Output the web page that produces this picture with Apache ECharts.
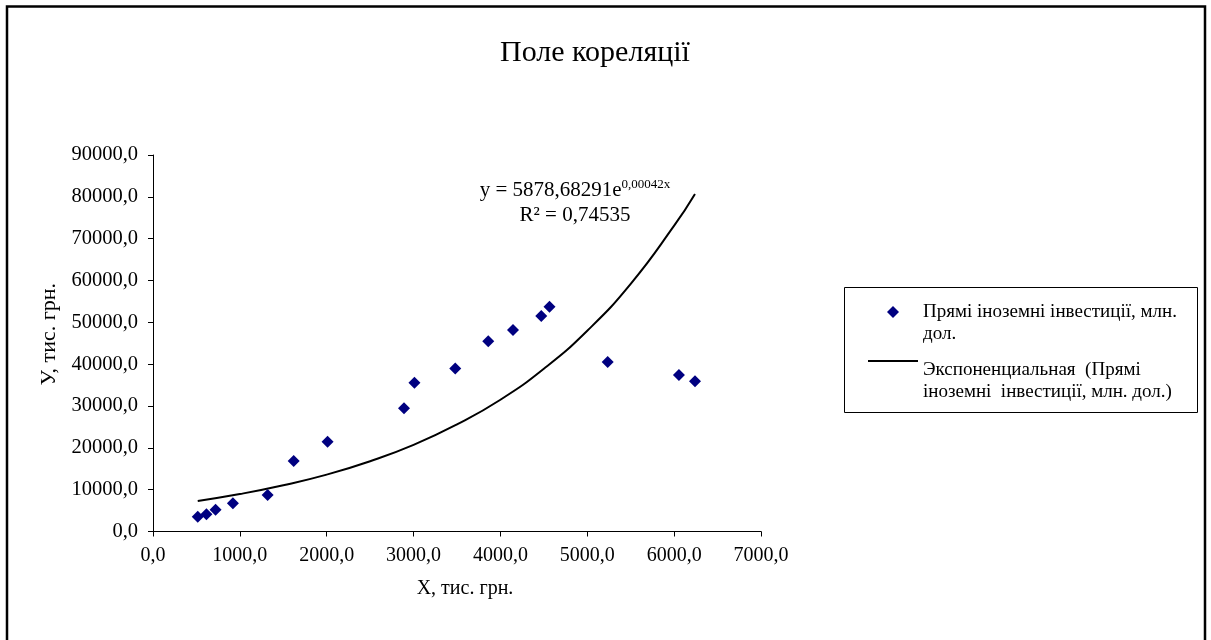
<!DOCTYPE html>
<html>
<head>
<meta charset="utf-8">
<title>Поле кореляції</title>
<script src="https://cdn.jsdelivr.net/npm/echarts@6/dist/echarts.min.js"></script>
<style>
  html, body { margin: 0; padding: 0; background: #fff; }
  #chart { width: 1211px; height: 640px; }
</style>
</head>
<body>
<div id="chart"></div>
<script>
// observed points (X, тис. грн. / У, тис. грн.)
const xValues = [515, 615, 720, 920, 1320, 1620, 2010, 2890, 3010, 3480, 3860, 4145, 4470, 4565, 5235, 6055, 6240];
const yValues = [3540, 4110, 5210, 6740, 8730, 16850, 21470, 29450, 35570, 38970, 45470, 48170, 51510, 53740, 40520, 37410, 35910];

// exponential trend line
const trendX = [515, 1000, 1500, 2000, 2500, 3000, 3500, 4000, 4500, 5000, 5500, 6000, 6240];
const trendY = [7300, 8950, 11050, 13600, 16800, 20700, 25600, 31500, 38900, 48000, 59200, 73100, 80700];

const seriesName = 'Прямі іноземні інвестиції, млн. дол.';
const trendName = 'Экспоненциальная (Прямі іноземні інвестиції, млн. дол.)';

const serif = 'Liberation Serif';
const fmt = v => v.toFixed(1).replace('.', ',');

const chart = echarts.init(document.getElementById('chart'));

const legendFont = { fontFamily: serif, fontSize: 19, lineHeight: 22, color: '#000' };
// small diamond in the middle of a 50x12 icon box (the two dots keep the box from being stretched)
const diamondIcon = 'path://M0,0L0,0M50,12L50,12M19,6L25,0L31,6L25,12Z';

chart.setOption({
  animation: false,
  title: {
    text: 'Поле кореляції',
    left: 495,
    top: 33,
    textStyle: { fontFamily: serif, fontSize: 30, fontWeight: 'normal', color: '#000' }
  },
  grid: { left: 153, right: 450, top: 155, bottom: 108.5 },
  xAxis: {
    type: 'value',
    min: 0, max: 7000, interval: 1000,
    name: 'Х, тис. грн.',
    nameLocation: 'middle',
    nameGap: 47,
    nameTextStyle: { fontFamily: serif, fontSize: 20, color: '#000', padding: [0, 0, 0, 16] },
    axisLine: { show: true, lineStyle: { color: '#000', width: 1 } },
    axisTick: { show: true, length: 5, lineStyle: { color: '#000' } },
    axisLabel: { fontFamily: serif, fontSize: 20, color: '#000', margin: 14, formatter: fmt },
    splitLine: { show: false }
  },
  yAxis: {
    type: 'value',
    min: 0, max: 90000, interval: 10000,
    name: 'У, тис. грн.',
    nameLocation: 'middle',
    nameRotate: 90,
    nameGap: 88,
    nameTextStyle: { fontFamily: serif, fontSize: 22, color: '#000', padding: [0, 0, 0, 18] },
    axisLine: { show: true, lineStyle: { color: '#000', width: 1 } },
    axisTick: { show: true, length: 5, lineStyle: { color: '#000' } },
    axisLabel: { fontFamily: serif, fontSize: 20.5, color: '#000', margin: 15, formatter: fmt },
    splitLine: { show: false }
  },
  legend: {
    orient: 'vertical',
    left: 867,
    top: 279,
    padding: 0,
    borderWidth: 0,
    itemWidth: 50,
    itemHeight: 12,
    itemGap: -26,
    selectedMode: false,
    textStyle: {
      fontFamily: serif, fontSize: 19, lineHeight: 22, color: '#000',
      rich: {
        t: legendFont,
        e1: { fontSize: 4, lineHeight: 22 },
        e2: { fontSize: 4, lineHeight: 40 }
      }
    },
    data: [
      { name: seriesName, icon: diamondIcon },
      { name: trendName, itemStyle: { opacity: 0 } }
    ],
    formatter: function (name) {
      if (name === seriesName) {
        return '{e1| }\n{t|Прямі іноземні інвестиції, млн.}\n{t|дол.}';
      }
      return '{e2| }\n{t|Экспоненциальная  (Прямі}\n{t|іноземні  інвестиції, млн. дол.)}';
    }
  },
  graphic: [
    {
      type: 'rect',
      shape: { x: 7, y: 6.5, width: 1198, height: 700 },
      style: { fill: 'none', stroke: '#000', lineWidth: 2.5 },
      silent: true
    },
    {
      // legend frame
      type: 'rect',
      shape: { x: 844.5, y: 287.5, width: 353, height: 125 },
      style: { fill: 'none', stroke: '#000', lineWidth: 1 },
      silent: true
    },
    {
      type: 'text',
      x: 575,
      y: 178,
      style: {
        text: '{eq|y = 5878,68291e}{sup|0,00042x}\n{eq|R² = 0,74535}',
        align: 'center',
        verticalAlign: 'top',
        rich: {
          eq: { fontFamily: serif, fontSize: 21, lineHeight: 25, fill: '#000' },
          sup: { fontFamily: serif, fontSize: 13, lineHeight: 13, verticalAlign: 'top', fill: '#000' }
        }
      },
      silent: true
    }
  ],
  series: [
    {
      name: seriesName,
      type: 'scatter',
      symbol: 'diamond',
      symbolSize: 12,
      itemStyle: { color: '#000080', opacity: 1 },
      data: xValues.map((x, i) => [x, yValues[i]]),
      z: 3
    },
    {
      name: trendName,
      type: 'line',
      smooth: true,
      symbol: 'none',
      itemStyle: { color: '#000' },
      lineStyle: { color: '#000', width: 2 },
      data: trendX.map((x, i) => [x, trendY[i]]),
      z: 2
    }
  ]
});
</script>
</body>
</html>
